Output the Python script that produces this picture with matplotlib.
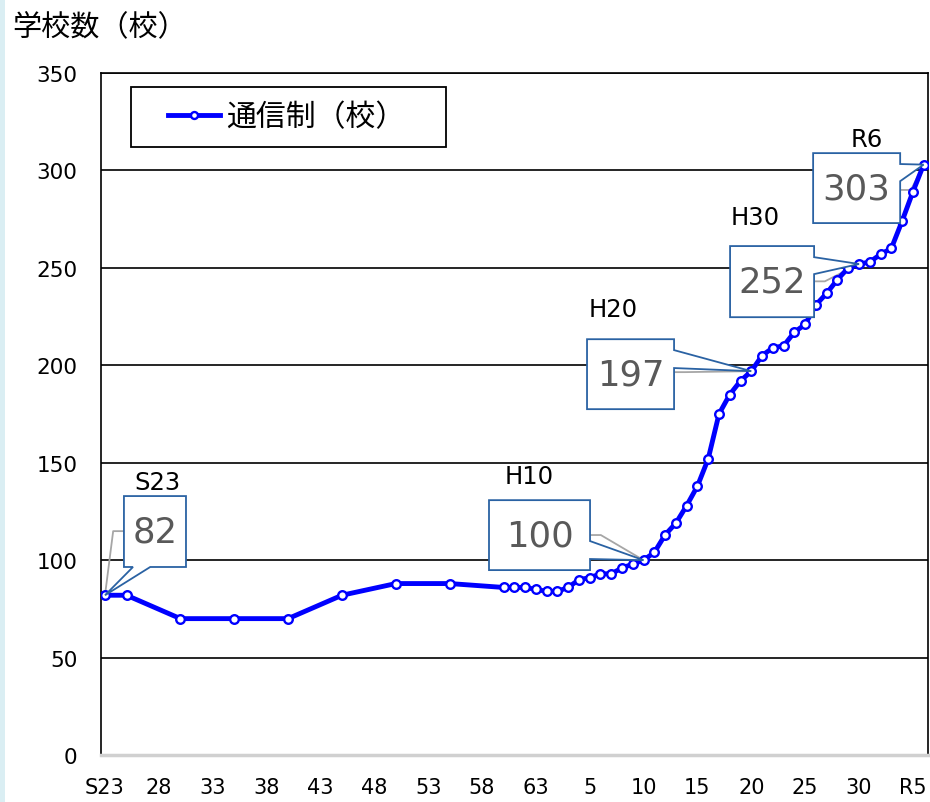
import matplotlib
matplotlib.use('Agg')
import matplotlib.pyplot as plt
from matplotlib.patches import Rectangle, Polygon

# 通信制高校数の推移 (S23 - R6)
years = [1948, 1950, 1955, 1960, 1965, 1970, 1975, 1980,
         1985, 1986, 1987, 1988, 1989, 1990, 1991, 1992, 1993, 1994,
         1995, 1996, 1997, 1998, 1999, 2000, 2001, 2002, 2003, 2004,
         2005, 2006, 2007, 2008, 2009, 2010, 2011, 2012, 2013, 2014,
         2015, 2016, 2017, 2018, 2019, 2020, 2021, 2022, 2023, 2024]
schools = [82, 82, 70, 70, 70, 82, 88, 88,
           86, 86, 86, 85, 84, 84, 86, 90, 91, 93,
           93, 96, 98, 100, 104, 113, 119, 128, 138, 152,
           175, 185, 192, 197, 205, 209, 210, 217, 221, 231,
           237, 244, 250, 252, 253, 257, 260, 274, 289, 303]

tick_years = list(range(1948, 2024, 5))
tick_labels = ['S23', '28', '33', '38', '43', '48', '53', '58', '63',
               '5', '10', '15', '20', '25', '30', 'R5']

# years that get a callout box
callout_names = ['S23', 'H10', 'H20', 'H30', 'R6']
callout_years = [1948, 1998, 2008, 2018, 2024]

cjk = ['Noto Sans CJK JP', 'DejaVu Sans']
blue = '#0000FF'
box_edge = '#2a62a3'

fig = plt.figure(figsize=(9.3, 8.03), dpi=100)
fig.patches.append(Rectangle((0, 0), 0.0055, 1, transform=fig.transFigure,
                             facecolor='#daeef3', edgecolor='none'))
ax = fig.add_axes([0.1086, 0.0585, 0.8892, 0.8493])

ax.plot(years, schools, color=blue, lw=3.5, marker='o', ms=6.2,
        mfc='white', mec=blue, mew=1.7, zorder=3, label='通信制（校）')

ax.set_xlim(1947.63, 2024.4)
ax.set_ylim(0, 350)
ax.set_yticks(range(0, 351, 50))
ax.set_xticks(tick_years)
ax.set_xticklabels(tick_labels, family=['Liberation Sans Narrow', 'DejaVu Sans'],
                   fontsize=15)
for t in ax.get_yticklabels():
    t.set_fontsize(15.5)
    t.set_family('DejaVu Sans')
ax.tick_params(axis='both', length=0)
ax.tick_params(axis='y', pad=17)
ax.tick_params(axis='x', pad=16)
ax.grid(axis='y', color='black', lw=1.2, zorder=1)

for side in ['left', 'right', 'top']:
    ax.spines[side].set_color('black')
    ax.spines[side].set_linewidth(1.2)
ax.spines['bottom'].set_color('#d0d0d0')
ax.spines['bottom'].set_linewidth(2.5)

# callout layout (data coords): era label, box extents, pointer base, leader
label_xy = [(1952.9, 140), (1987.4, 143), (1995.2, 229), (2008.4, 276), (2018.7, 316)]
box_l = [1949.76, 1983.65, 1992.75, 2006.03, 2013.74]
box_r = [1955.52, 1993.03, 2000.83, 2013.83, 2021.82]
box_b = [96.5, 94.9, 177.5, 224.7, 273.0]
box_t = [132.9, 130.8, 213.4, 261.2, 308.9]
notch = [(1950.6, 1952.2), (109.8, 100.6), (207.8, 198.6), (255.5, 246.8), (303.3, 294.5)]
lead_y = [114.9, 112.9, 196.5, 243.1, 290.0]

for i, (name, yr) in enumerate(zip(callout_names, callout_years)):
    val = schools[years.index(yr)]
    l, r, b, t = box_l[i], box_r[i], box_b[i], box_t[i]
    n1, n2 = notch[i]
    ax.text(label_xy[i][0], label_xy[i][1], name, ha='center', va='center',
            fontsize=17.5, family='DejaVu Sans', zorder=6)
    if i == 0:
        # pointer from bottom edge, leader from left edge
        verts = [(l, t), (r, t), (r, b), (n2, b), (yr, val), (n1, b), (l, b)]
        lx = [l, l - 1.0, yr]
    else:
        # pointer from right edge, leader from right edge
        verts = [(l, t), (r, t), (r, n1), (yr, val), (r, n2), (r, b), (l, b)]
        lx = [r, r + 1.0, yr]
    ax.plot(lx, [lead_y[i], lead_y[i], val], color='#a6a6a6', lw=1.3, zorder=2.5)
    ax.add_patch(Polygon(verts, closed=True, facecolor='white', edgecolor=box_edge,
                         lw=1.3, joinstyle='miter', zorder=5))
    ax.text((l + r) / 2, (b + t) / 2, str(val), ha='center', va='center',
            fontsize=25.5, color='#595959', family='DejaVu Sans', zorder=6)

# legend: drawn frame + frameless legend inside it
ax.add_patch(Rectangle((0.0363, 0.8915), 0.381, 0.088, transform=ax.transAxes,
                       facecolor='white', edgecolor='black', lw=1.3, zorder=6))
leg = ax.legend(loc='center left', bbox_to_anchor=(0.081, 0.9355),
                prop={'family': cjk, 'size': 21.5}, frameon=False,
                borderpad=0, borderaxespad=0, handlelength=1.75, handletextpad=0.2)
leg.set_zorder(7)
for h in leg.get_lines():
    h.set_markersize(5)

fig.text(0.013, 0.965, '学校数（校）', family=cjk, fontsize=21, ha='left', va='center')

fig.savefig('out.png', dpi=100)
